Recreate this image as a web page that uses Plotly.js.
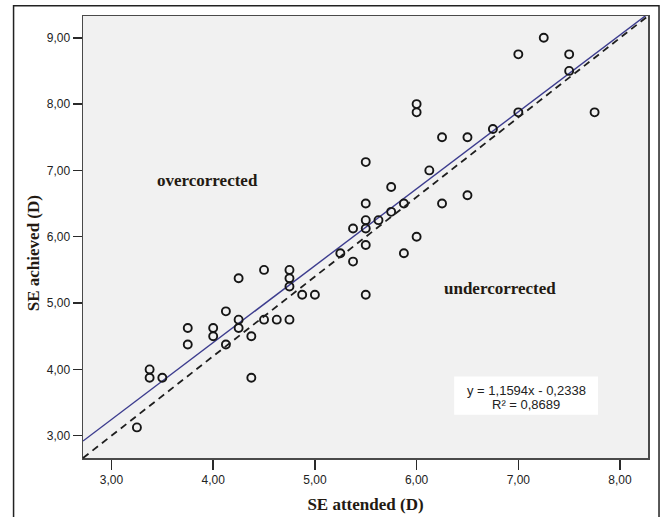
<!DOCTYPE html>
<html>
<head>
<meta charset="utf-8">
<script src="https://cdn.plot.ly/plotly-3.0.1.min.js"></script>
<style>html,body{margin:0;padding:0;background:#fff;}#chart{width:660px;height:517px;}</style>
</head>
<body>
<div id="chart"></div>
<script>
// Data
var seAttended = [3.25, 3.375, 3.375, 3.5, 3.75, 3.75, 4.0, 4.0, 4.125, 4.125,
  4.25, 4.25, 4.25, 4.375, 4.375, 4.5, 4.5, 4.625, 4.75, 4.75,
  4.75, 4.75, 4.875, 5.0, 5.25, 5.375, 5.375, 5.5, 5.5, 5.5,
  5.5, 5.5, 5.5, 5.625, 5.75, 5.75, 5.875, 5.875, 6.0, 6.0,
  6.0, 6.125, 6.25, 6.25, 6.5, 6.5, 6.75, 7.0, 7.0, 7.25,
  7.5, 7.5, 7.75];
var seAchieved = [3.125, 4.0, 3.875, 3.875, 4.625, 4.375, 4.625, 4.5, 4.875, 4.375,
  5.375, 4.75, 4.625, 4.5, 3.875, 5.5, 4.75, 4.75, 5.5, 5.375,
  5.25, 4.75, 5.125, 5.125, 5.75, 6.125, 5.625, 7.125, 6.5, 6.25,
  6.125, 5.875, 5.125, 6.25, 6.75, 6.375, 6.5, 5.75, 8.0, 7.875,
  6.0, 7.0, 7.5, 6.5, 7.5, 6.625, 7.625, 8.75, 7.875, 9.0,
  8.75, 8.5, 7.875];
var fitSlope = [1.1594];
var fitIntercept = [-0.2338];
var fitR2 = [0.8689];
var xTicks = [3, 4, 5, 6, 7, 8];
var yTicks = [3, 4, 5, 6, 7, 8, 9];
var regionLabels = ["overcorrected", "undercorrected"];
var axisTitles = ["SE attended (D)", "SE achieved (D)"];

var xRange = [2.72, 8.275];
var yRange = [2.664, 9.328];

function fmt(v, d) { return Math.abs(v).toFixed(d).replace('.', ','); }

var fitX = [xRange[0], xRange[1]];
var fitY = fitX.map(function (x) { return fitSlope[0] * x + fitIntercept[0]; });

var serif = 'Times New Roman, Liberation Serif, serif';
var sans = 'Arial, Liberation Sans, sans-serif';
var titleColor = '#231a12';

var traces = [
  {
    x: fitX, y: fitY, type: 'scatter', mode: 'lines',
    line: {color: '#3c3c8e', width: 1.4}, hoverinfo: 'skip', showlegend: false
  },
  {
    x: seAttended, y: seAchieved, type: 'scatter', mode: 'markers',
    marker: {symbol: 'circle-open', size: 8, color: '#161616', line: {width: 1.9, color: '#161616'}},
    showlegend: false, cliponaxis: false
  }
];

var eqText = 'y = ' + fmt(fitSlope[0], 4) + 'x ' + (fitIntercept[0] < 0 ? '-' : '+') + ' ' + fmt(fitIntercept[0], 4);
var r2Text = 'R² = ' + fmt(fitR2[0], 4);

var layout = {
  width: 660, height: 517,
  margin: {l: 83, r: 12, t: 16, b: 59},
  paper_bgcolor: '#ffffff',
  plot_bgcolor: '#f1f1f1',
  separators: ',.',
  showlegend: false,
  xaxis: {
    range: xRange, tickvals: xTicks, tickformat: '.2f',
    showgrid: false, zeroline: false,
    showline: true, linecolor: '#4a4a4a', linewidth: 1.5, mirror: true,
    ticks: 'outside', ticklen: 10, tickwidth: 1.5, tickcolor: '#2a2a2a',
    tickfont: {family: sans, size: 12, color: '#222222'},
    title: {text: '<b>' + axisTitles[0] + '</b>', font: {family: serif, size: 17, color: titleColor}, standoff: 12}
  },
  yaxis: {
    range: yRange, tickvals: yTicks, tickformat: '.2f',
    showgrid: false, zeroline: false,
    showline: true, linecolor: '#4a4a4a', linewidth: 1.5, mirror: true,
    ticks: 'outside', ticklen: 9, tickwidth: 1.5, tickcolor: '#2a2a2a',
    tickfont: {family: sans, size: 12, color: '#222222'}
  },
  shapes: [
    {type: 'line', xref: 'x domain', yref: 'y domain', x0: 0, y0: 0, x1: 1, y1: 1,
      line: {color: '#1e1e1e', width: 1.8, dash: '7px,5px'}},
    {type: 'rect', xref: 'paper', yref: 'paper', x0: 0.6569, x1: 0.9116, y0: 0.0979, y1: 0.1842,
      fillcolor: '#ffffff', line: {width: 0}},
    {type: 'rect', xref: 'paper', yref: 'paper', x0: -0.1229, x1: 1.0195, y0: -0.14, y1: 1.0233,
      fillcolor: 'rgba(0,0,0,0)', line: {color: '#222222', width: 1.5}, layer: 'below'}
  ],
  annotations: [
    {xref: 'paper', yref: 'paper', x: 0.221, y: 0.6288, text: '<b>' + regionLabels[0] + '</b>',
      showarrow: false, font: {family: serif, size: 17, color: titleColor}, xanchor: 'center', yanchor: 'middle'},
    {xref: 'paper', yref: 'paper', x: 0.7383, y: 0.3825, text: '<b>' + regionLabels[1] + '</b>',
      showarrow: false, font: {family: serif, size: 17, color: titleColor}, xanchor: 'center', yanchor: 'middle'},
    {xref: 'paper', yref: 'paper', x: -0.0881, y: 0.4638, text: '<b>' + axisTitles[1] + '</b>', textangle: -90,
      showarrow: false, font: {family: serif, size: 17, color: titleColor}, xanchor: 'center', yanchor: 'middle'},
    {xref: 'paper', yref: 'paper', x: 0.7843, y: 0.1536, text: eqText,
      showarrow: false, font: {family: sans, size: 13, color: '#222222'}, xanchor: 'center', yanchor: 'middle'},
    {xref: 'paper', yref: 'paper', x: 0.7843, y: 0.1220, text: r2Text,
      showarrow: false, font: {family: sans, size: 13, color: '#222222'}, xanchor: 'center', yanchor: 'middle'}
  ]
};

Plotly.newPlot('chart', traces, layout, {displayModeBar: false, staticPlot: true});
</script>
</body>
</html>
